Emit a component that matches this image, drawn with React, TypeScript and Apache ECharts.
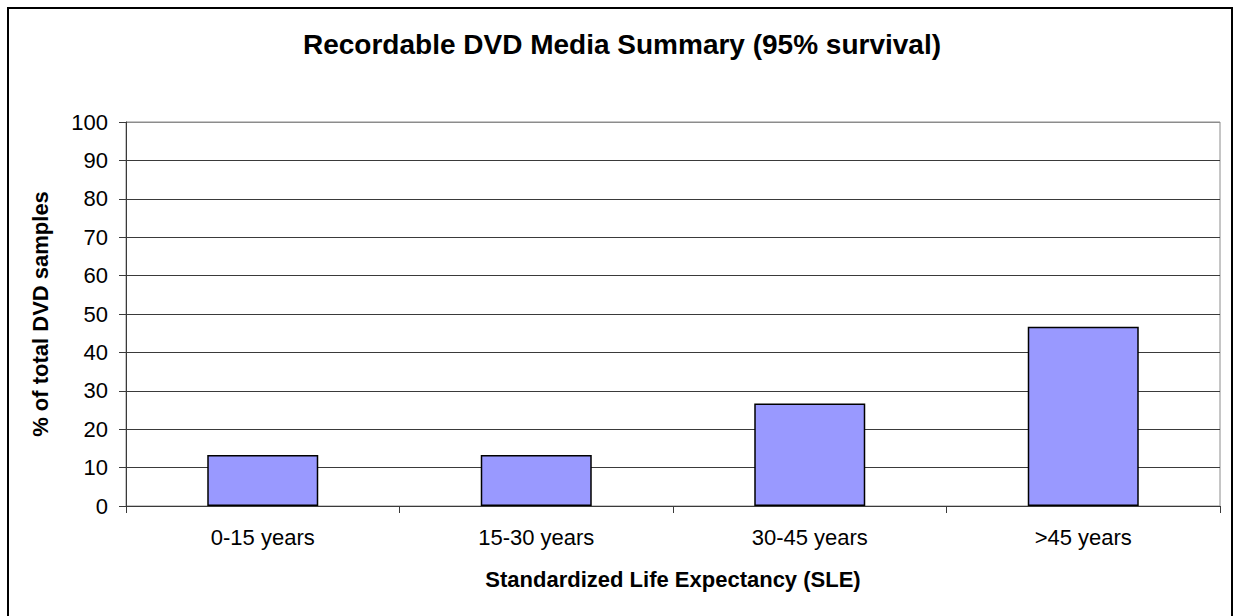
import React, { useEffect, useRef } from "react";
import * as echarts from "echarts";

const titleText = "Recordable DVD Media Summary (95% survival)";
const categories = ["0-15 years", "15-30 years", "30-45 years", ">45 years"];
const values = [13.3, 13.3, 26.7, 46.7];
const xName = "Standardized Life Expectancy (SLE)";
const yName = "% of total DVD samples";
const yMin = 0;
const yMax = 100;
const yInterval = 10;

const FONT = "'Liberation Sans', Arial, sans-serif";

export default function App() {
  const ref = useRef<HTMLDivElement>(null);
  useEffect(() => {
    if (!ref.current) return;
    const chart = echarts.init(ref.current, null, { renderer: "svg" });
    const gridColors = Array.from({ length: 11 }, (_, i) => (i === 10 ? "#8c8c8c" : "#3a3a3a"));
    chart.setOption({
      animation: false,
      backgroundColor: "#ffffff",
      textStyle: { fontFamily: FONT },
      title: {
        text: titleText,
        left: 303,
        top: 30,
        padding: 0,
        textStyle: { fontSize: 28, fontWeight: "bold", color: "#000", fontFamily: FONT },
      },
      graphic: [
        {
          type: "rect",
          shape: { x: 8, y: 8, width: 1224, height: 700 },
          style: { fill: "none", stroke: "#000", lineWidth: 2 },
          silent: true,
          z: 100,
        },
      ],
      grid: {
        left: 126,
        top: 122,
        width: 1094,
        height: 384,
        show: true,
        borderColor: "#8c8c8c",
        borderWidth: 1,
        backgroundColor: "transparent",
      },
      xAxis: {
        type: "category",
        data: categories,
        boundaryGap: true,
        name: xName,
        nameLocation: "middle",
        nameGap: 62,
        nameTextStyle: { fontSize: 22, fontWeight: "bold", color: "#000", fontFamily: FONT },
        axisLine: { show: true, lineStyle: { color: "#3a3a3a", width: 1 } },
        axisTick: { show: true, length: 7, inside: false, alignWithLabel: false, interval: 0, lineStyle: { color: "#3a3a3a" } },
        axisLabel: { fontSize: 22, color: "#000", margin: 20, interval: 0, fontFamily: FONT },
        splitLine: { show: false },
      },
      yAxis: {
        type: "value",
        min: yMin,
        max: yMax,
        interval: yInterval,
        name: yName,
        nameLocation: "middle",
        nameGap: 75,
        nameRotate: 90,
        nameTextStyle: { fontSize: 22, fontWeight: "bold", color: "#000", fontFamily: FONT },
        axisLine: { show: true, lineStyle: { color: "#3a3a3a", width: 1 } },
        axisTick: { show: true, length: 7, inside: false, lineStyle: { color: "#3a3a3a" } },
        axisLabel: { fontSize: 22, color: "#000", margin: 18, fontFamily: FONT },
        splitLine: { show: true, lineStyle: { color: gridColors, width: 1 } },
      },
      series: [
        {
          type: "bar",
          data: values,
          barWidth: 111,
          itemStyle: { color: "#9999ff", borderColor: "#000", borderWidth: 1.5 },
        },
      ],
    });
    return () => chart.dispose();
  }, []);
  return (
    <div
      ref={ref}
      style={{ position: "absolute", left: 0, top: 0, width: 1236, height: 616 }}
    />
  );
}
